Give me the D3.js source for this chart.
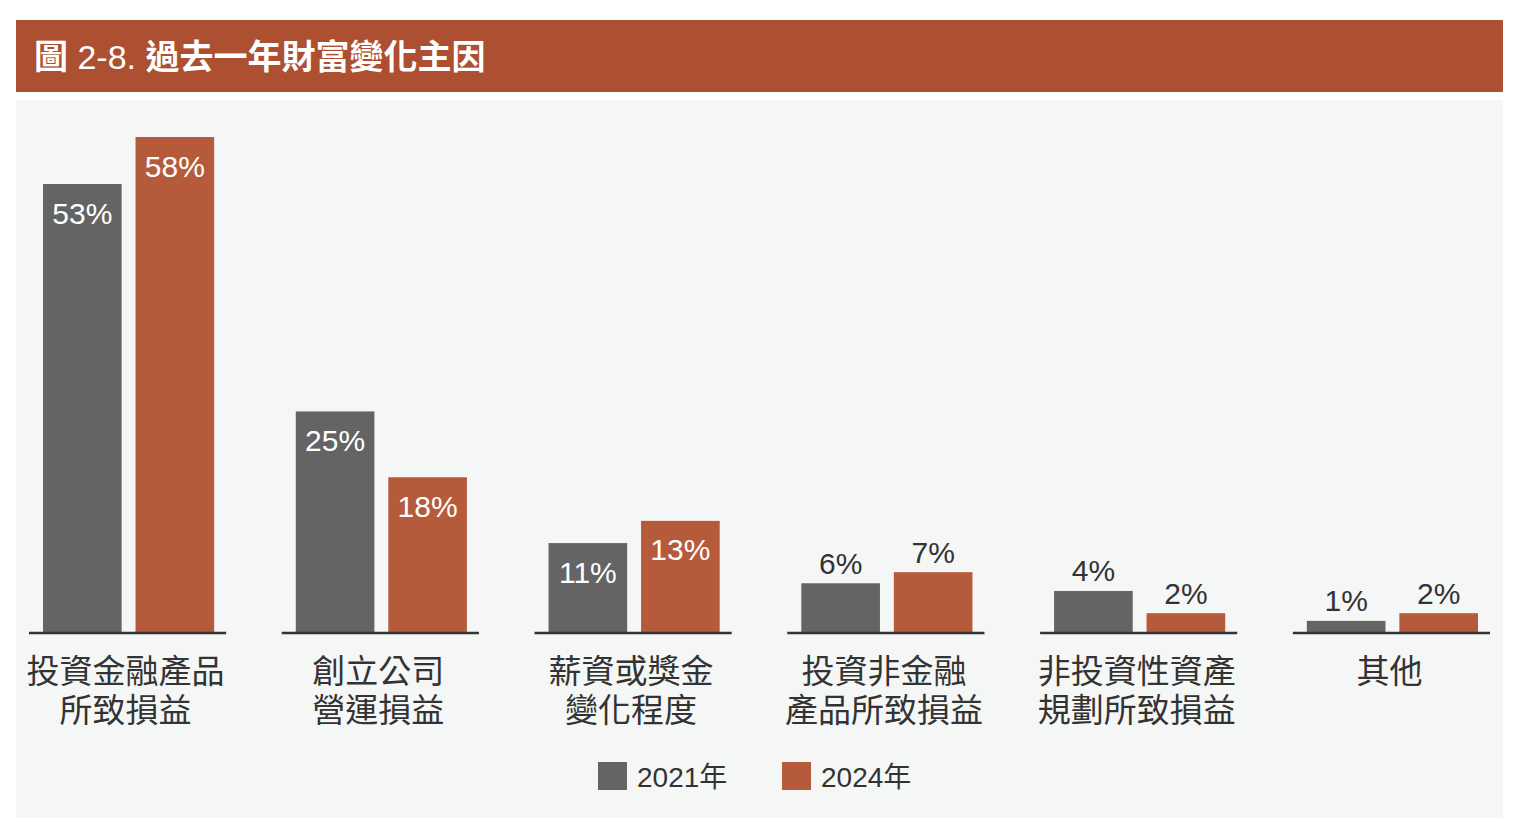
<!DOCTYPE html>
<html>
<head>
<meta charset="utf-8">
<script src="https://cdn.jsdelivr.net/npm/d3@7"></script>
<style>
  body { margin: 0; background: #fff; }
  svg { display: block; font-family: "Liberation Sans", "Noto Sans CJK TC", sans-serif; }
</style>
</head>
<body>
<div id="chart"></div>
<script>
var categories = [
    ["投資金融產品", "所致損益"],
    ["創立公司", "營運損益"],
    ["薪資或獎金", "變化程度"],
    ["投資非金融", "產品所致損益"],
    ["非投資性資產", "規劃所致損益"],
    ["其他"]
];
var seriesNames = ["2021年", "2024年"];
// bar heights
var values2021 = [52.4, 25.8, 10.4, 5.7, 4.8, 1.3];
var values2024 = [57.9, 18.1, 13.0, 7.0, 2.2, 2.2];
// printed labels
var labels2021 = ["53%", "25%", "11%", "6%", "4%", "1%"];
var labels2024 = ["58%", "18%", "13%", "7%", "2%", "2%"];

function init() {
    var w = 1518;
    var h = 818;
    var colors = ["#646464", "#B55B3B"];
    var baseY = 632;

    var svg = d3.select("#chart")
        .append("svg")
        .attr("width", w)
        .attr("height", h);

    // title bar
    svg.append("rect")
        .attr("x", 16).attr("y", 20)
        .attr("width", 1487).attr("height", 72)
        .attr("fill", "#AD4F31");
    var title = svg.append("text")
        .attr("x", 34).attr("y", 57)
        .attr("dominant-baseline", "central")
        .attr("fill", "#fff")
        .attr("font-weight", "bold")
        .attr("font-size", 34);
    title.append("tspan").text("圖 ");
    title.append("tspan").attr("font-weight", "normal").text("2-8. ");
    title.append("tspan").text("過去一年財富變化主因");

    // panel
    svg.append("rect")
        .attr("x", 16).attr("y", 100)
        .attr("width", 1487).attr("height", 718)
        .attr("fill", "#F5F7F6");

    var x0 = d3.scaleBand()
        .domain(d3.range(categories.length))
        .range([29, 1490])
        .paddingInner(0.22)
        .paddingOuter(0);

    var x1 = d3.scaleBand()
        .domain([0, 1])
        .range([14, x0.bandwidth() - 12])
        .paddingInner(0.15);

    var y = d3.scaleLinear()
        .domain([0, 57.9])
        .range([baseY, 137]);

    var series = [values2021, values2024];
    var seriesLabels = [labels2021, labels2024];

    function rows(d, i) {
        return series.map(function(s, j) {
            return { s: j, v: s[i], label: seriesLabels[j][i] };
        });
    }

    var groups = svg.selectAll(".grp")
        .data(categories)
        .enter()
        .append("g")
        .attr("class", "grp")
        .attr("transform", function(d, i) {
            return "translate(" + x0(i) + ",0)";
        });

    groups.selectAll("rect")
        .data(rows)
        .enter()
        .append("rect")
        .attr("x", function(d) { return x1(d.s); })
        .attr("y", function(d) { return y(d.v); })
        .attr("width", x1.bandwidth())
        .attr("height", function(d) { return baseY - y(d.v); })
        .attr("fill", function(d) { return colors[d.s]; });

    groups.selectAll(".val")
        .data(rows)
        .enter()
        .append("text")
        .attr("class", "val")
        .attr("x", function(d) { return x1(d.s) + x1.bandwidth() / 2; })
        .attr("y", function(d) {
            return d.v > 9 ? y(d.v) + 29 : y(d.v) - 20;
        })
        .attr("text-anchor", "middle")
        .attr("dominant-baseline", "central")
        .attr("font-size", 30)
        .attr("fill", function(d) { return d.v > 9 ? "#fff" : "#333"; })
        .text(function(d) { return d.label; });

    // baseline for each group
    groups.append("line")
        .attr("x1", 0)
        .attr("x2", x0.bandwidth())
        .attr("y1", baseY + 1)
        .attr("y2", baseY + 1)
        .attr("stroke", "#333")
        .attr("stroke-width", 2.5);

    // category labels
    groups.append("text")
        .attr("text-anchor", "middle")
        .attr("font-size", 33)
        .attr("fill", "#333")
        .selectAll("tspan")
        .data(function(d) { return d; })
        .enter()
        .append("tspan")
        .attr("x", x0.bandwidth() / 2 - 2)
        .attr("y", function(d, i) { return 671 + i * 39; })
        .attr("dominant-baseline", "central")
        .text(function(d) { return d; });

    // legend
    var legendX = [598, 782];
    var legend = svg.selectAll(".leg")
        .data(seriesNames)
        .enter()
        .append("g")
        .attr("class", "leg")
        .attr("transform", function(d, i) {
            return "translate(" + legendX[i] + ",762)";
        });
    legend.append("rect")
        .attr("width", 29).attr("height", 28)
        .attr("fill", function(d, i) { return colors[i]; });
    legend.append("text")
        .attr("x", 39).attr("y", 15)
        .attr("dominant-baseline", "central")
        .attr("font-size", 28)
        .attr("fill", "#333")
        .text(function(d) { return d; });
}

window.onload = init;
</script>
</body>
</html>
